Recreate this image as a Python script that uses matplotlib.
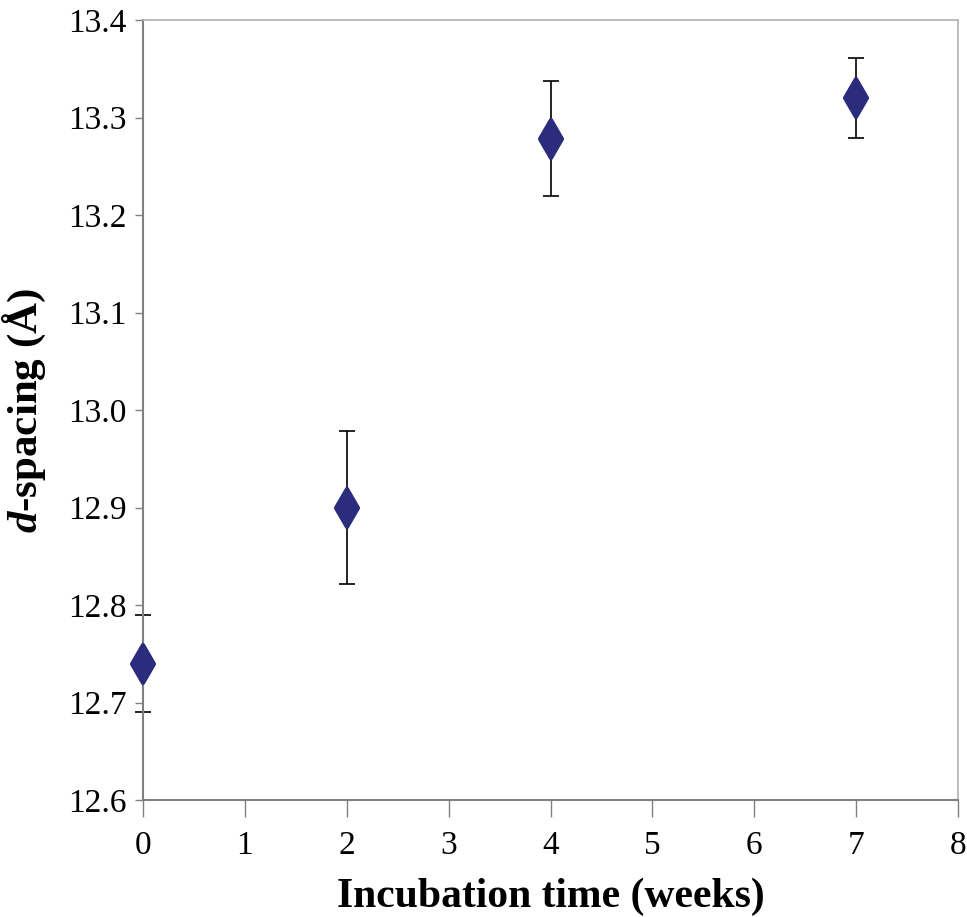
import matplotlib
matplotlib.use("Agg")
import matplotlib.pyplot as plt
from matplotlib.markers import MarkerStyle

weeks = [0, 2, 4, 7]
d_spacing = [12.74, 12.90, 13.278, 13.32]
d_err = [0.05, 0.078, 0.059, 0.041]
x_ticks = [0, 1, 2, 3, 4, 5, 6, 7, 8]
y_ticks = [12.6, 12.7, 12.8, 12.9, 13.0, 13.1, 13.2, 13.3, 13.4]

plt.rcParams['font.family'] = ['Liberation Serif', 'DejaVu Serif']
plt.rcParams['mathtext.fontset'] = 'custom'
plt.rcParams['mathtext.it'] = 'Liberation Serif:italic:bold'
plt.rcParams['mathtext.rm'] = 'Liberation Serif:bold'

fig = plt.figure(figsize=(9.67, 9.17), dpi=100)
ax = fig.add_axes([143/967, 1 - 800/917, (958 - 143)/967, 780/917])

eb = ax.errorbar(weeks, d_spacing, yerr=d_err, fmt='none', ecolor='black',
                 elinewidth=1.2, capsize=6, capthick=1.2, zorder=2)
for art in list(eb.lines[1]) + list(eb.lines[2]):
    art.set_clip_on(False)

# rounded diamond markers
diamond = MarkerStyle('d', joinstyle='round')
ax.plot(weeks, d_spacing, linestyle='none', marker=diamond, markersize=19,
        color='#2B2C7C', markeredgecolor='#2B2C7C', markeredgewidth=3,
        markerfacecolor='#2B2C7C', zorder=3, clip_on=False)

ax.set_xlim(0, 8)
ax.set_ylim(12.6, 13.4)
ax.set_xticks(x_ticks)
ax.set_yticks(y_ticks)
ax.set_yticklabels(['%.1f' % v for v in y_ticks])
ax.tick_params(axis='x', direction='out', length=12, width=1, color='#808080',
               labelsize=24, pad=10)
ax.tick_params(axis='y', direction='out', length=6, width=1, color='#808080',
               labelsize=24, pad=6)

for side in ['left', 'bottom']:
    ax.spines[side].set_color('#808080')
    ax.spines[side].set_linewidth(1.5)
for side in ['top', 'right']:
    ax.spines[side].set_color('#b0b0b0')
    ax.spines[side].set_linewidth(1.2)

ax.set_xlabel('Incubation time (weeks)', fontsize=30, fontweight='bold', labelpad=12)
ax.set_ylabel(r'$d$-spacing (Å)', fontsize=31, fontweight='bold', labelpad=14)

fig.savefig('out.png', dpi=100)
